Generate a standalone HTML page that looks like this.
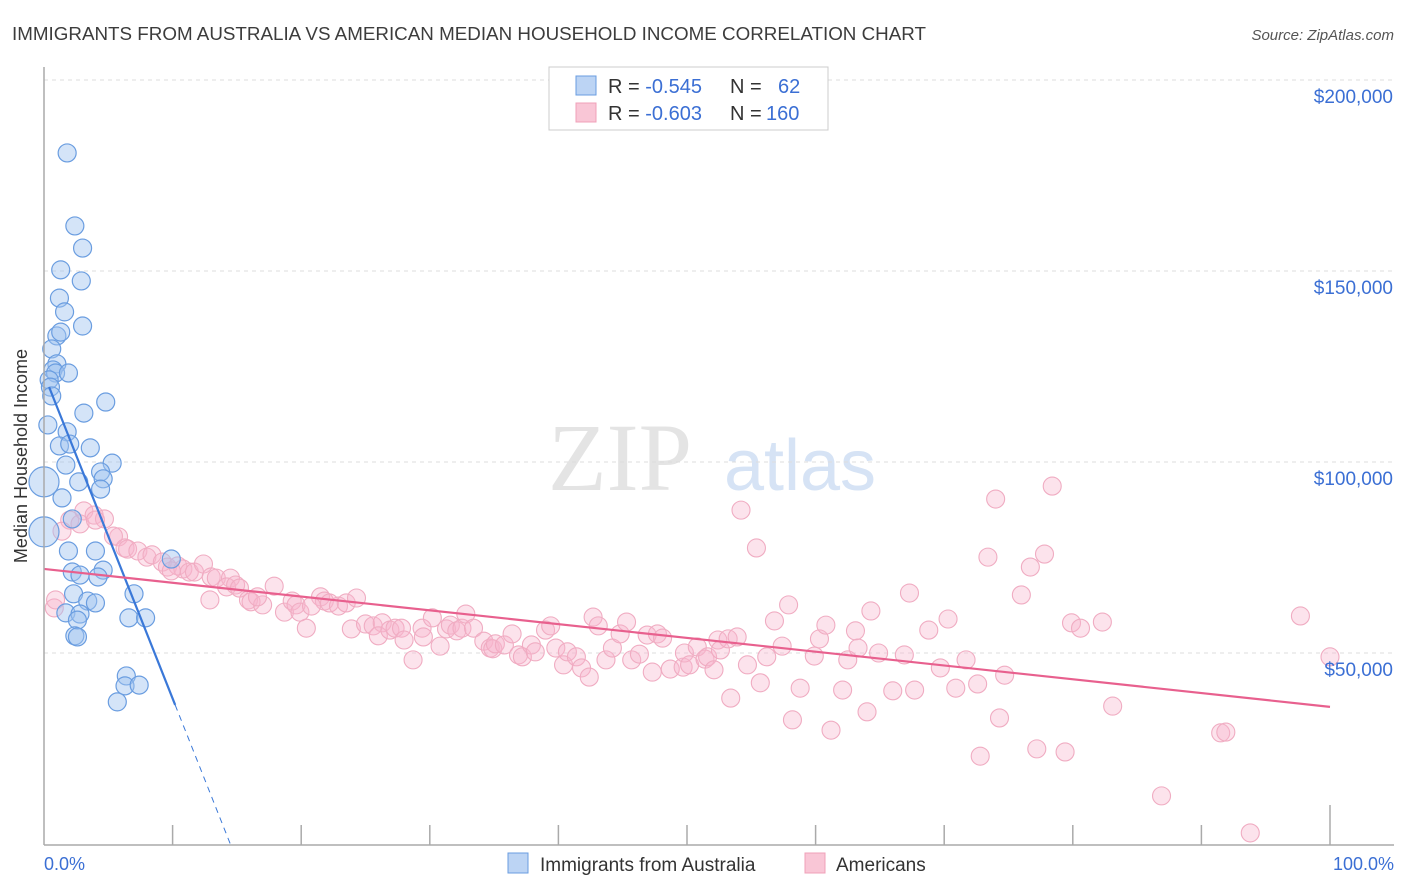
<!DOCTYPE html>
<html><head><meta charset="utf-8"><style>
body{margin:0;background:#fff;font-family:"Liberation Sans",sans-serif;}
#wrap{position:relative;width:1406px;height:892px;overflow:hidden}
</style></head><body>
<div id="wrap">
<svg id="svg" width="1406" height="892" xmlns="http://www.w3.org/2000/svg">
<text x="12" y="40" font-size="18" fill="#3c3c3c" textLength="914" lengthAdjust="spacingAndGlyphs">IMMIGRANTS FROM AUSTRALIA VS AMERICAN MEDIAN HOUSEHOLD INCOME CORRELATION CHART</text>
<text x="1394" y="40" font-size="15" fill="#555" font-style="italic" text-anchor="end">Source: ZipAtlas.com</text>
<text x="620" y="490" font-size="96" fill="#e4e4e4" font-family="Liberation Serif,serif" text-anchor="middle">ZIP</text>
<text x="800" y="490" font-size="72" fill="#d6e3f5" text-anchor="middle">atlas</text>
<g id="grid"></g><g id="pts"></g><g id="lines"></g>
<line x1="44" y1="67" x2="44" y2="845" stroke="#aaa" stroke-width="1.5"/>
<line x1="44" y1="845" x2="1394" y2="845" stroke="#aaa" stroke-width="1.5"/>
<text x="27" y="456" font-size="18" fill="#333" text-anchor="middle" transform="rotate(-90 27 456)">Median Household Income</text>
<text x="44" y="870" font-size="18" fill="#3b6fd4">0.0%</text>
<text x="1394" y="870" font-size="18" fill="#3b6fd4" text-anchor="end">100.0%</text>
<g>
<rect x="549" y="67" width="279" height="63" fill="#fff" stroke="#ccc"/>
<rect x="576" y="76" width="20" height="19" fill="#bcd4f4" stroke="#6a9de0"/>
<rect x="576" y="103" width="20" height="19" fill="#f9c6d6" stroke="#f0a0b8"/>
<text x="608" y="93" font-size="20" fill="#333">R = <tspan fill="#3b6fd4">-0.545</tspan><tspan x="730">N = </tspan><tspan x="778" fill="#3b6fd4">62</tspan></text>
<text x="608" y="120" font-size="20" fill="#333">R = <tspan fill="#3b6fd4">-0.603</tspan><tspan x="730">N = </tspan><tspan x="766" fill="#3b6fd4">160</tspan></text>
</g>
<g>
<rect x="508" y="853" width="20" height="20" fill="#bcd4f4" stroke="#6a9de0"/>
<text x="540" y="871" font-size="19" fill="#333">Immigrants from Australia</text>
<rect x="805" y="853" width="20" height="20" fill="#f9c6d6" stroke="#f0a0b8"/>
<text x="836" y="871" font-size="19" fill="#333">Americans</text>
</g>
</svg>
</div>
<script>
const yTicks=[50000,100000,150000,200000];
const yTickLabels=["$50,000","$100,000","$150,000","$200,000"];
const xTicks=[10,20,30,40,50,60,70,80,90,100];
const blueX=[1.8,2.4,3.0,1.3,2.9,1.2,1.6,1.0,3.0,1.3,0.6,1.0,0.7,0.9,1.9,0.4,0.5,0.6,4.8,3.1,0.3,1.8,1.2,2.0,3.6,1.7,5.3,4.4,4.6,2.7,4.4,1.4,0.0,2.2,0.0,1.9,4.0,9.9,2.2,2.8,4.6,4.2,2.3,7.0,3.4,4.0,1.7,2.8,2.6,6.6,7.9,2.4,2.6,6.4,6.3,7.4,5.7];
const blueY=[180.9,161.8,156.0,150.3,147.4,142.9,139.3,133.0,135.6,134.0,129.6,125.7,124.1,123.3,123.3,121.5,119.6,117.3,115.7,112.8,109.7,107.9,104.2,104.7,103.7,99.2,99.7,97.4,95.6,94.8,92.9,90.6,94.8,85.1,81.7,76.7,76.7,74.6,71.2,70.4,71.7,69.9,65.5,65.5,63.6,63.1,60.5,60.2,58.6,59.2,59.2,54.5,54.2,44.0,41.4,41.6,37.2];
const blueBig=[32,34];
const pinkX=[3.1,2.0,3.9,4.7,2.8,4.0,1.4,0.8,0.9,5.8,5.4,6.3,6.5,7.3,8.0,8.4,9.2,9.6,10.4,10.8,11.3,11.7,12.4,9.9,13.0,13.4,14.5,14.2,14.9,15.2,12.9,15.9,16.1,17.0,16.6,17.9,18.7,19.3,19.6,19.9,20.4,21.5,21.8,22.2,22.9,23.5,24.3,20.8,23.9,25.0,25.6,26.3,26.0,26.9,27.3,27.8,28.0,28.7,29.4,29.5,30.2,30.8,31.3,31.6,32.1,32.5,32.8,33.4,34.2,34.7,34.9,35.1,35.8,36.4,36.9,37.2,37.9,38.2,39.0,39.4,39.8,40.4,40.7,41.4,41.8,42.4,42.7,43.1,43.7,44.2,44.8,45.3,45.7,46.3,46.9,47.3,47.7,48.1,48.7,49.7,49.8,50.2,50.8,51.4,51.6,52.1,52.4,52.6,53.2,53.4,53.9,54.2,54.7,55.4,55.7,56.2,56.8,57.4,57.9,58.2,58.8,59.9,60.3,60.8,61.2,62.1,62.5,63.1,63.3,64.0,64.3,64.9,66.0,66.9,67.3,67.7,68.8,69.7,70.3,70.9,71.7,72.6,72.8,73.4,74.0,74.3,74.7,76.0,76.7,77.2,77.8,78.4,79.4,79.9,80.6,82.3,83.1,86.9,91.5,91.9,93.8,97.7,100];
const pinkY=[87.2,84.8,86.1,85.1,83.8,84.8,81.9,61.8,63.9,80.4,80.6,77.5,77.2,76.7,75.1,75.7,73.8,72.5,72.8,72.0,71.2,71.2,73.3,71.5,69.9,69.6,69.6,67.3,67.8,67.0,63.9,63.9,63.4,62.6,64.7,67.5,60.7,63.6,62.6,60.7,56.5,64.7,63.6,63.1,62.3,63.1,64.4,62.3,56.3,57.6,57.1,57.9,54.5,56.0,56.5,56.5,53.4,48.2,56.5,54.2,59.2,51.8,56.3,57.3,55.8,56.5,60.2,56.5,53.1,51.3,51.1,52.4,52.1,55.0,49.5,49.0,52.1,50.3,56.0,57.1,51.3,46.9,50.3,49.0,46.1,43.7,59.4,57.1,48.2,51.3,55.0,58.1,48.2,49.7,54.7,45.0,55.0,53.9,45.8,46.3,50.0,46.9,51.6,48.4,49.0,45.6,53.4,50.8,53.7,38.2,54.2,87.4,46.9,77.5,42.2,49.0,58.4,51.8,62.6,32.5,40.8,49.2,53.7,57.3,29.8,40.3,48.2,55.8,51.3,34.6,61.0,50.0,40.1,49.5,65.7,40.3,56.0,46.1,58.9,40.8,48.2,41.9,23.0,75.1,90.3,33.0,44.2,65.2,72.5,24.9,75.9,93.7,24.1,57.9,56.5,58.1,36.1,12.6,29.1,29.3,2.9,59.7,49.0];
const blueTrend=[123.0,-8.49];
const pinkTrend=[72.0,35.9];
const NS="http://www.w3.org/2000/svg";
const X=p=>44+p*12.86;
const Y=v=>844-v*191/50000;
const Yk=k=>Y(k*1000);
function mk(tag,attrs,parent){const e=document.createElementNS(NS,tag);for(const k in attrs)e.setAttribute(k,attrs[k]);parent.appendChild(e);return e;}
const grid=document.getElementById('grid'),pts=document.getElementById('pts'),lines=document.getElementById('lines'),svg=document.getElementById('svg');
yTicks.forEach((t,i)=>{
 const l=mk('line',{x1:44,x2:1394,y1:Y(t),y2:Y(t),stroke:'#ddd','stroke-dasharray':'4,4'},grid);
 
 
 const tx=mk('text',{x:1393,y:Y(t)+23,'font-size':19,fill:'#3b6fd4','text-anchor':'end'},svg);
 tx.textContent=yTickLabels[i];
 
 
});
xTicks.forEach(t=>{
 const l=mk('line',{x1:X(t),x2:X(t),y1:t===100?805:825,y2:845,stroke:'#aaa','stroke-width':1.5},grid);
 
 
});
pinkX.forEach((p,i)=>{
 const c=mk('circle',{cx:X(p),cy:Yk(pinkY[i]),r:9,fill:'rgba(248,182,204,0.38)',stroke:'#f0acc2','stroke-width':1.1},pts);
 
 
});
blueX.forEach((p,i)=>{
 const big=blueBig.includes(i);
 const c=mk('circle',{cx:X(p),cy:Yk(blueY[i]),r:big?15:9,fill:'rgba(160,196,240,0.45)',stroke:'#6a9de0','stroke-width':1.2},pts);
 
 
});
const bf=x=>blueTrend[0]+blueTrend[1]*x;
const xEnd=-blueTrend[0]/blueTrend[1];
const bl=mk('line',{x1:X(0.4),y1:Yk(bf(0.4)),x2:X(10.2),y2:Yk(bf(10.2)),stroke:'#3a78d8','stroke-width':2.2},lines);


const bd=mk('line',{x1:X(10.2),y1:Yk(bf(10.2)),x2:X(xEnd),y2:Yk(0),stroke:'#3a78d8','stroke-width':1,'stroke-dasharray':'6,5'},lines);


const pl=mk('line',{x1:X(0),y1:Yk(pinkTrend[0]),x2:X(100),y2:Yk(pinkTrend[1]),stroke:'#e8608e','stroke-width':2.2},lines);


</script>
</body></html>
